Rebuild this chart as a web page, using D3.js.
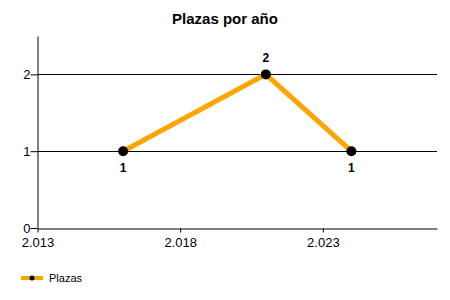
<!DOCTYPE html>
<html>
<head>
<meta charset="utf-8">
<script src="https://cdn.jsdelivr.net/npm/d3@7"></script>
<style>
  body { margin: 0; background: #fff; }
  text { font-family: "Liberation Sans", Arial, sans-serif; }
</style>
</head>
<body>
<div id="box"></div>
<script>
// data
const years = [2016, 2021, 2024];
const plazas = [1, 2, 1];
const xTicks = [2013, 2018, 2023];
const yTicks = [0, 1, 2];
const seriesName = 'Plazas';

const width = 450;
const height = 300;
const padLeft = 37.5;
const padRight = 13;
const padTop = 36;
const padBottom = 72;

const svg = d3.select('#box').append('svg')
  .attr('width', width)
  .attr('height', height);

const x = d3.scaleLinear().domain([2013, 2027]).range([padLeft, width - padRight]);
const y = d3.scaleLinear().domain([0, 2.5]).range([height - padBottom, padTop]);

// title
svg.append('text')
  .attr('x', 225).attr('y', 24)
  .attr('text-anchor', 'middle')
  .style('font-size', '15px')
  .style('font-weight', 'bold')
  .text('Plazas por año');

// gridlines
svg.selectAll('.grid').data(yTicks.filter(d => d > 0))
  .join('line')
  .attr('class', 'grid')
  .attr('x1', padLeft).attr('x2', width - padRight)
  .attr('y1', d => Math.round(y(d)) + 0.5).attr('y2', d => Math.round(y(d)) + 0.5)
  .attr('stroke', '#000');

// axes
const xAxis = svg.append('g')
  .attr('transform', `translate(0, ${Math.round(y(0)) + 0.5})`)
  .call(d3.axisBottom(x).tickValues(xTicks).tickSize(4).tickSizeOuter(0)
    .tickFormat(d => d3.format(',')(d).replace(',', '.')));
const yAxis = svg.append('g')
  .attr('transform', `translate(${padLeft}, 0)`)
  .call(d3.axisLeft(y).tickValues(yTicks).tickSize(7).tickSizeOuter(0)
    .tickFormat(d3.format('d')));

[xAxis, yAxis].forEach(a => {
  a.select('.domain').attr('stroke', '#000');
  a.selectAll('.tick line').attr('stroke', '#000');
  a.selectAll('text').style('font-size', '13px').attr('fill', '#000')
    .style('font-family', '"Liberation Sans", Arial, sans-serif');
});
xAxis.selectAll('text').attr('dy', '0.85em');
yAxis.selectAll('text').attr('x', -7).attr('dy', '0.35em');

const pts = years.map((d, i) => ({ yr: d, v: plazas[i] }));

// line
svg.append('path')
  .datum(pts)
  .attr('fill', 'none')
  .attr('stroke', '#FFA500')
  .attr('stroke-width', 5)
  .attr('d', d3.line().x(d => x(d.yr)).y(d => y(d.v)));

svg.selectAll('.pt').data(pts)
  .join('circle')
  .attr('class', 'pt')
  .attr('cx', d => x(d.yr)).attr('cy', d => y(d.v))
  .attr('r', 5)
  .attr('fill', '#000');

// data labels
svg.selectAll('.lbl').data(pts)
  .join('text')
  .attr('class', 'lbl')
  .attr('x', d => x(d.yr))
  .attr('y', (d, i) => i === 1 ? y(d.v) - 12 : y(d.v) + 21)
  .attr('text-anchor', 'middle')
  .style('font-size', '12px')
  .style('font-weight', 'bold')
  .text(d => d.v);

// legend
const lg = svg.append('g').attr('transform', 'translate(21, 278)');
lg.append('line').attr('x1', 0).attr('x2', 22).attr('stroke', '#FFA500').attr('stroke-width', 4);
lg.append('circle').attr('cx', 11).attr('r', 2.5).attr('fill', '#000');
lg.append('text').attr('x', 28).attr('y', 4)
  .style('font-size', '11px')
  .text(seriesName);
</script>
</body>
</html>
